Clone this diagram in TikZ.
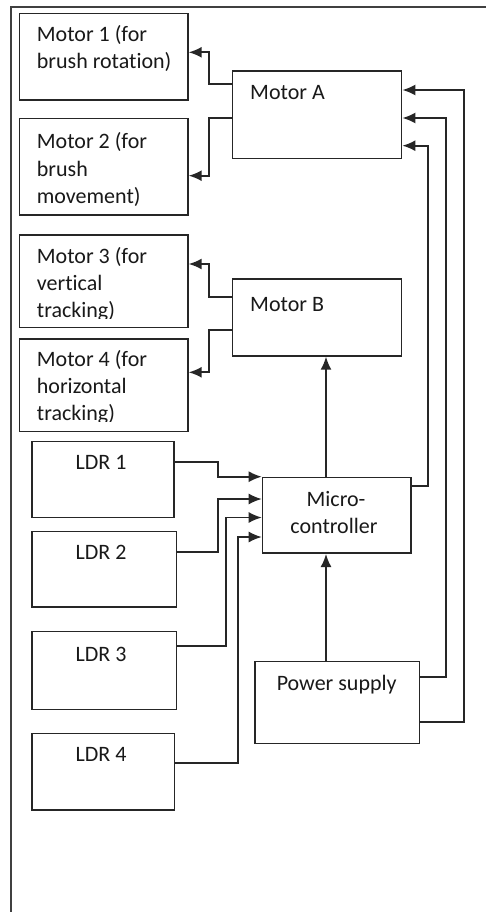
\documentclass[tikz,border=0pt]{standalone}
\usepackage{fontspec}
\setmainfont{Carlito}[Ligatures={NoCommon}]
\usetikzlibrary{arrows.meta,calc}
\begin{document}
\begin{tikzpicture}[x=1pt,y=-1pt,
  box/.style={draw=black!85,line width=1.7pt,anchor=north west,inner sep=0},
  arr/.style={draw=black!85,line width=1.7pt,-{Latex[length=13pt,width=11pt]}},
  frame/.style={draw=black!75,line width=1.7pt},
  txt/.style={font=\fontsize{22}{27.5}\selectfont,inner sep=0,anchor=base west,text=black!90},
  ctxt/.style={txt,anchor=base}]
\useasboundingbox (0,0) rectangle (486,912);
\fill[white] (0,0) rectangle (486,912);
\draw[frame] (486,6.7) -- (10.7,6.7) -- (10.7,912);

% boxes
\node[box,minimum width=168.3pt,minimum height=86.6pt] (m1) at (18.7,12.7) {};
\node[box,minimum width=168.3pt,minimum height=96.3pt] (m2) at (18.7,117.7) {};
\node[box,minimum width=169pt,minimum height=87.7pt] (mA) at (231.7,70) {};
\node[box,minimum width=168.3pt,minimum height=92.7pt] (m3) at (18.7,234) {};
\node[box,minimum width=168.3pt,minimum height=92.4pt] (m4) at (18.7,338.3) {};
\node[box,minimum width=169pt,minimum height=76.7pt] (mB) at (231.7,278.3) {};
\node[box,minimum width=142.3pt,minimum height=76pt] (l1) at (31,440.7) {};
\node[box,minimum width=144.7pt,minimum height=75.3pt] (l2) at (31,530.7) {};
\node[box,minimum width=148.3pt,minimum height=75.6pt] (mc) at (261.7,476.7) {};
\node[box,minimum width=144.7pt,minimum height=78pt] (l3) at (31,630.7) {};
\node[box,minimum width=142.7pt,minimum height=76.3pt] (l4) at (31,732.7) {};
\node[box,minimum width=164.7pt,minimum height=82pt] (ps) at (254,660.7) {};

% texts
\node[txt] (m1a) at (36.7,41.5) {Motor 1 (for};
\node[txt] (m1b) at (36.7,69) {brush rotation)};
\node[txt] (m2a) at (36.7,148.5) {Motor 2 (for};
\node[txt] (m2b) at (36.7,176) {brush};
\node[txt] (m2c) at (36.7,203.5) {movement)};
\node[txt] (mAt) at (250,100) {Motor A};
\node[txt] (m3a) at (36.7,263.3) {Motor 3 (for};
\node[txt] (m3b) at (36.7,290.5) {vertical};
\begin{scope}
\clip (18.7,295) rectangle (187,318.3);
\node[txt] (m3c) at (36.7,317.3) {tracking)};
\end{scope}
\node[txt] (m4a) at (36.7,366.7) {Motor 4 (for};
\node[txt] (m4b) at (36.7,393.5) {horizontal};
\begin{scope}
\clip (18.7,398) rectangle (187,421.3);
\node[txt] (m4c) at (36.7,420.3) {tracking)};
\end{scope}
\node[txt] (mBt) at (250,311) {Motor B};
\node[ctxt] (l1t) at (101,469.3) {LDR 1};
\node[ctxt] (l2t) at (101,559.3) {LDR 2};
\node[ctxt] (l3t) at (101,661.3) {LDR 3};
\node[ctxt] (l4t) at (101,761.3) {LDR 4};
\node[ctxt] (mca) at (336,506) {Micro-};
\node[ctxt] (mcb) at (334,533.3) {controller};
\node[ctxt] (pst) at (336.7,690) {Power supply};

% connectors
\draw[arr] (mA.west |- 0,84.3) -| (209.3,52.3) -- (m1.east |- 0,52.3);
\draw[arr] (mA.west |- 0,117.7) -| (209.3,175.7) -- (m2.east |- 0,175.7);
\draw[arr] (mB.west |- 0,296.7) -| (209.3,264) -- (m3.east |- 0,264);
\draw[arr] (mB.west |- 0,330) -| (209.3,372.3) -- (m4.east |- 0,372.3);
\draw[arr] (mc.north -| 326,0) -- (mB.south -| 326,0);
\draw[arr] (ps.north -| 326,0) -- (mc.south -| 326,0);
\draw[arr] (mc.east |- 0,486) -| (428.3,145.7) -- (mA.east |- 0,145.7);
\draw[arr] (ps.east |- 0,676.7) -| (446,118) -- (mA.east |- 0,118);
\draw[arr] (ps.east |- 0,722.3) -| (464,90) -- (mA.east |- 0,90);
\draw[arr] (l1.east |- 0,462.3) -| (217.7,476.7) -- (mc.west |- 0,476.7);
\draw[arr] (l2.east |- 0,552.3) -| (217.7,499) -- (mc.west |- 0,499);
\draw[arr] (l3.east |- 0,646) -| (226,517.5) -- (mc.west |- 0,517.5);
\draw[arr] (l4.east |- 0,762.7) -| (237.7,537) -- (mc.west |- 0,537);
\end{tikzpicture}
\end{document}
